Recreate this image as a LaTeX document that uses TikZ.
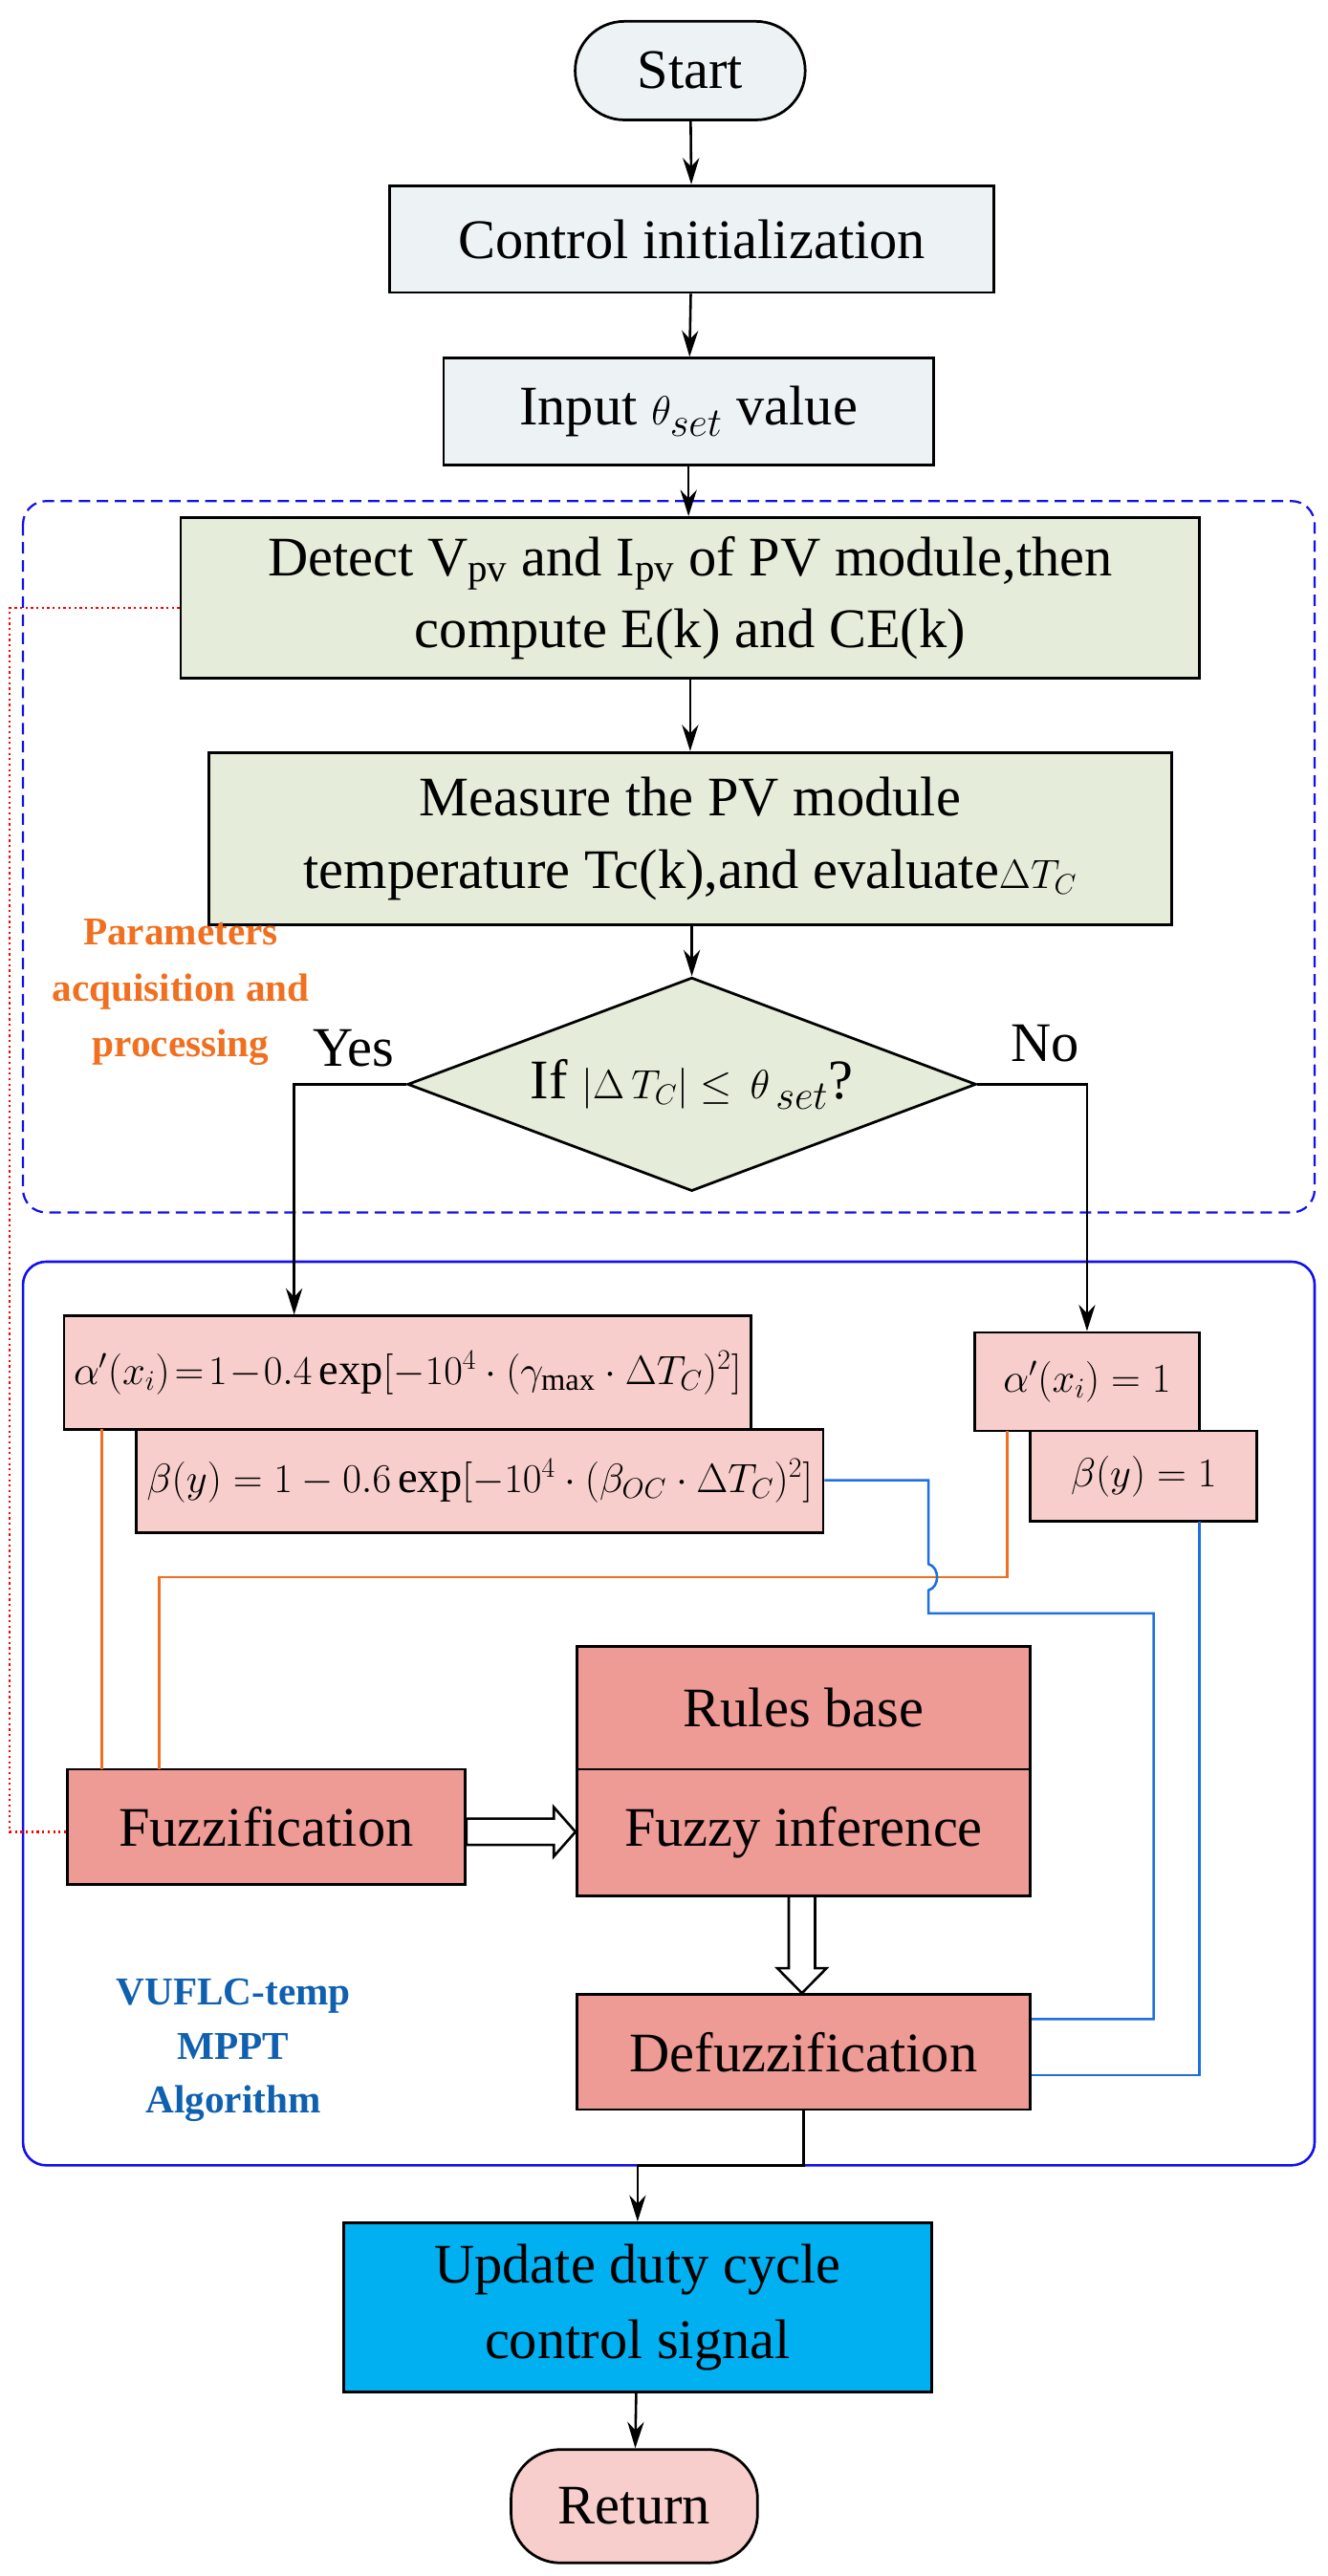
\documentclass[tikz,border=0pt]{standalone}
\usepackage{fontspec}
\setmainfont{Liberation Serif}
\usetikzlibrary{shapes.geometric,arrows.meta,calc}
\definecolor{startc}{HTML}{EDF2F5}
\definecolor{greenc}{HTML}{E5ECD9}
\definecolor{pinkc}{HTML}{F8CECC}
\definecolor{redc}{HTML}{EE9A95}
\definecolor{cyanc}{HTML}{00B0F0}
\definecolor{orangec}{HTML}{F07020}
\definecolor{bluetxt}{HTML}{1060B0}
\definecolor{bluel}{HTML}{1E6FE0}
\definecolor{frameb}{HTML}{1010F0}
\begin{document}
\begin{tikzpicture}[x=1pt,y=-1pt,
  box/.style={draw=black,line width=1.6pt,inner sep=0pt,align=center,font=\fontsize{34}{40}\selectfont},
  fbox/.style={draw=black,line width=1.6pt,inner sep=0pt,font=\fontsize{27}{32}\selectfont},
  arr/.style={line width=1.5pt,-{Stealth[length=16pt,width=10pt]}},
  ln/.style={line width=1.5pt},
  hol/.style={draw=black,line width=1.5pt,fill=white,line join=miter}]
\useasboundingbox (0,0) rectangle (808,1568);
% frames
\draw[frameb,line width=1.3pt,dashed,dash pattern=on 7pt off 4pt,rounded corners=14pt] (14,305) rectangle (800,738);
\draw[frameb,line width=1.5pt,rounded corners=14pt] (14,768) rectangle (800,1318);
% nodes
\node[box,fill=startc,minimum width=140pt,minimum height=60pt,rounded corners=30pt] (start) at (420,43) {Start};
\node[box,fill=startc,minimum width=368pt,minimum height=65pt] (init) at (421,145.5) {Control initialization};
\node[box,fill=startc,minimum width=298pt,minimum height=65pt] (inp) at (419,250.5) {Input $\theta_{set}$ value};
\node[box,fill=greenc,minimum width=620pt,minimum height=98pt,font=\fontsize{34}{44}\selectfont] (det) at (420,364) {Detect V\textsubscript{pv} and I\textsubscript{pv} of PV module,then\\compute E(k) and CE(k)};
\node[box,fill=greenc,minimum width=586pt,minimum height=105pt,font=\fontsize{34}{44}\selectfont] (mea) at (420,510.5) {Measure the PV module\\temperature Tc(k),and evaluate{\fontsize{26}{30}\selectfont$\Delta T_C$}};
\node[box,fill=greenc,shape=diamond,aspect=2.66,minimum width=346pt,minimum height=130pt] (dia) at (421,660) {If $\left|{\scriptstyle\Delta\, T_C}\right|\le\,\theta_{\,set}$?};
\node[font=\fontsize{34}{40}\selectfont] (yes) at (215,638) {Yes};
\node[font=\fontsize{34}{40}\selectfont] (no) at (636,635) {No};
\node[align=center,text=orangec,font=\bfseries\fontsize{24}{34}\selectfont] (par) at (110,604) {Parameters\\acquisition and\\processing};
\node[fbox,fill=pinkc,minimum width=418pt,minimum height=69pt] (al) at (248,835.5) {$\alpha'(x_i)\!=\!1\!-\!0.4\exp[-10^4\cdot(\gamma_{\max}\cdot\Delta T_C)^2]$};
\node[fbox,fill=pinkc,minimum width=418pt,minimum height=63pt] (be) at (292,901.5) {$\beta(y)=1-0.6\exp[-10^4\cdot(\beta_{OC}\cdot\Delta T_C)^2]$};
\node[fbox,fill=pinkc,minimum width=137pt,minimum height=60pt] (al1) at (661.5,841) {$\alpha'(x_i)=1$};
\node[fbox,fill=pinkc,minimum width=138pt,minimum height=55pt,font=\fontsize{34}{40}\selectfont] (be1) at (696,898.5) {$\beta(y)=1$};
\node[box,fill=redc,minimum width=276pt,minimum height=75pt] (rb) at (489,1039.5) {Rules base};
\node[box,fill=redc,minimum width=276pt,minimum height=77pt] (fi) at (489,1115.5) {Fuzzy inference};
\node[box,fill=redc,minimum width=242pt,minimum height=70pt] (fz) at (162,1112) {Fuzzification};
\node[box,fill=redc,minimum width=276pt,minimum height=70pt] (dz) at (489,1249) {Defuzzification};
\node[align=center,text=bluetxt,font=\bfseries\fontsize{24}{33}\selectfont] (vu) at (142,1248) {VUFLC-temp\\MPPT\\Algorithm};
\node[box,fill=cyanc,minimum width=358pt,minimum height=103pt,font=\fontsize{34}{46}\selectfont] (up) at (388,1404.5) {Update duty cycle\\control signal};
\node[box,fill=pinkc,minimum width=150pt,minimum height=69pt,rounded corners=30pt] (ret) at (386,1525.5) {Return};
\coordinate (j1) at (388,1318);
% main arrows
\draw[arr] (start) -- (init);
\draw[arr] (init) -- (inp);
\draw[arr] (inp) -- (inp|-det.north);
\draw[arr] (det) -- (det|-mea.north);
\draw[arr] (mea.south-|dia.north) -- (dia.north);
\draw[arr] (dia.west) -| (al.north-|179,0);
\draw[arr] (dia.east) -| (al1.north);
\draw[ln] (dz.south) -- (dz.south|-j1) -- (j1);
\draw[arr] (j1) -- (up.north);
\draw[arr] (up) -- (ret);
% red dotted
\draw[red,line width=1.3pt,dotted] (det.west|-0,370) -- (6,370) -- (6,1115) -- (fz.west|-0,1115);
% orange
\draw[orangec,line width=1.5pt] (62,870) -- (62,1077);
\draw[orangec,line width=1.5pt] (613,871) -- (613,960) -- (97,960) -- (97,1077);
% blue
\draw[bluel,line width=1.5pt] (be.east|-0,901) -- (565,901) -- (565,952) .. controls (572,954) and (572,966) .. (565,968) -- (565,982) -- (702,982) -- (702,1229) -- (dz.east|-0,1229);
\draw[bluel,line width=1.5pt] (730,926) -- (730,1263) -- (dz.east|-0,1263);
% hollow arrows
\draw[hol] (fz.east|-0,1107) -- (337,1107) -- (337,1100) -- (fi.west|-0,1115) -- (337,1130) -- (337,1123) -- (fz.east|-0,1123) -- cycle;
\draw[hol] (480,1154) -- (480,1198) -- (473,1198) -- (dz.north-|488,0) -- (503,1198) -- (496,1198) -- (496,1154) -- cycle;
\end{tikzpicture}
\end{document}
